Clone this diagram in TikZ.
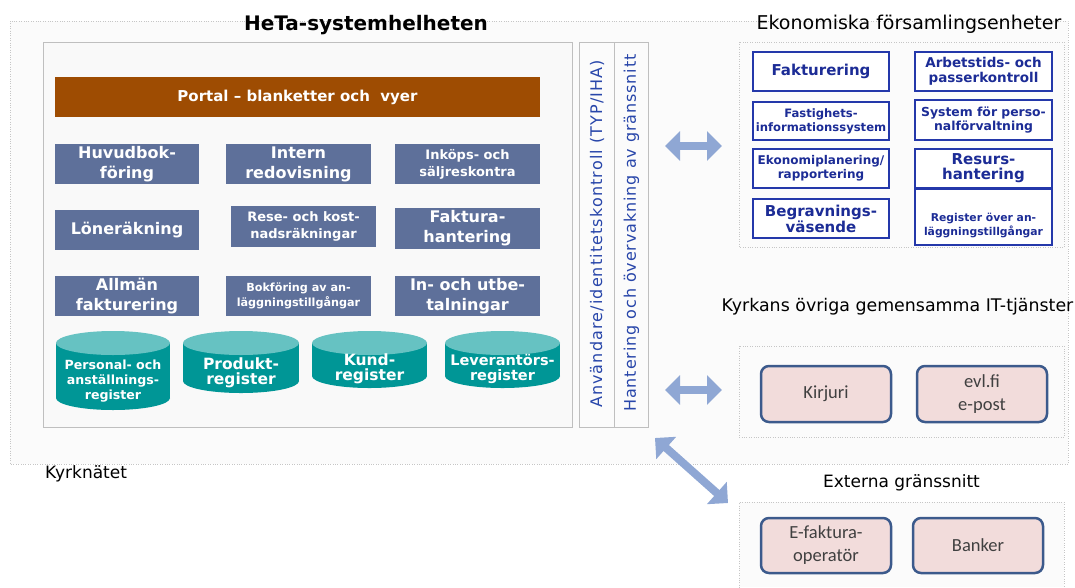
\documentclass[tikz,border=0pt]{standalone}
\usepackage{fontspec}
\setmainfont{DejaVu Sans}
\newfontfamily\carl{Carlito}
\newfontfamily\spaced[LetterSpace=7]{DejaVu Sans}
\newfontfamily\spacedb[LetterSpace=5.5]{DejaVu Sans}
\usetikzlibrary{arrows.meta}
\definecolor{portal}{RGB}{158,76,2}
\definecolor{bbox}{RGB}{94,112,154}
\definecolor{tealA}{RGB}{0,150,150}
\definecolor{tealB}{RGB}{102,194,194}
\definecolor{ekob}{RGB}{36,56,170}
\definecolor{ekot}{RGB}{28,44,150}
\definecolor{vtxt}{RGB}{40,70,170}
\definecolor{arr}{RGB}{143,167,212}
\definecolor{pinkf}{RGB}{242,220,219}
\definecolor{pinkb}{RGB}{60,90,140}
\newcommand{\fs}[2]{\fontsize{#1}{#2}\selectfont}
\tikzset{
  area/.style={draw=gray!45, dotted, fill=gray!3},
  heta/.style={draw=gray!50, fill=gray!5},
  vbar/.style={draw=gray!50, fill=gray!3},
  bluebox/.style={fill=bbox, text=white, align=center, inner sep=0pt, minimum height=40pt},
  ekobox/.style={draw=ekob, line width=1.5pt, fill=white, text=ekot, align=center, inner sep=0pt},
  pinkbox/.style={draw=pinkb, line width=2.5pt, fill=pinkf, rounded corners=8pt, text=black!75, align=center, inner sep=0pt, minimum width=130pt, minimum height=56pt, font=\carl\fs{18.5}{23}},
  title/.style={inner sep=0pt},
  dbl/.style={arr, line width=8pt, {Triangle[width=29pt,length=15pt]}-{Triangle[width=29pt,length=15pt]}},
  cyltext/.style={text=white, align=center, inner sep=0pt}
}
\begin{document}
\begin{tikzpicture}[x=1pt,y=-1pt]
\useasboundingbox (0,0) rectangle (1075,587);
% outer network area
\path[area] (10,21) rectangle (1068,464);
\node[inner sep=0pt, anchor=west, font=\fs{17}{18}] (kyrk) at (45,474) {Kyrknätet};
% HeTa
\path[heta] (43,42) rectangle (572,427);
\node[inner sep=0pt, font=\bfseries\fs{20}{24}] (hetatitle) at (366,25) {HeTa-systemhelheten};
\node[fill=portal, text=white, inner sep=0pt, minimum width=485pt, minimum height=40pt, font=\bfseries\fs{15}{16}] (portal) at (297.5,97) {Portal -- blanketter och\ \ vyer};
% row 1
\node[bluebox, minimum width=144pt, font=\bfseries\fs{16}{21}] (huvud) at (127,164) {Huvudbok-\\[-1pt]föring};
\node[bluebox, minimum width=145pt, font=\bfseries\fs{16}{21}] (intern) at (298.5,164) {Intern\\[-1pt]redovisning};
\node[bluebox, minimum width=145pt, font=\bfseries\fs{13}{17}] (inkop) at (467.5,164) {Inköps- och\\säljreskontra};
% row 2
\node[bluebox, minimum width=144pt, font=\bfseries\fs{16}{21}] (lone) at (127,230) {Löneräkning};
\node[bluebox, minimum width=145pt, minimum height=41pt, font=\bfseries\fs{13}{17}] (rese) at (303.5,226.5) {Rese- och kost-\\nadsräkningar};
\node[bluebox, minimum width=145pt, minimum height=41pt, font=\bfseries\fs{16}{21}] (fakt) at (467.5,228.5) {Faktura-\\[-1pt]hantering};
% row 3
\node[bluebox, minimum width=144pt, font=\bfseries\fs{16}{21}] (allman) at (127,296) {Allmän\\[-1pt]fakturering};
\node[bluebox, minimum width=145pt, font=\bfseries\fs{11.2}{15}] (bokf) at (298.5,296) {Bokföring av an-\\läggningstillgångar};
\node[bluebox, minimum width=145pt, font=\bfseries\fs{16}{21}] (inut) at (467.5,296) {In- och utbe-\\[-1pt]talningar};
% cylinders
\foreach \xa/\xb/\yb in {56/170/410, 183/299/393, 312/427/388, 445/560/388}{
  \pgfmathsetmacro{\cx}{(\xa+\xb)/2}
  \pgfmathsetmacro{\rx}{(\xb-\xa)/2}
  \fill[tealA] (\cx,\yb-12) ellipse [x radius=\rx pt, y radius=12pt];
  \fill[tealA] (\xa,343) rectangle (\xb,\yb-12);
  \fill[tealB] (\cx,343) ellipse [x radius=\rx pt, y radius=12pt];
}
\node[cyltext, font=\bfseries\fs{12.6}{15}] (pers) at (113,381) {Personal- och\\anställnings-\\register};
\node[cyltext, font=\bfseries\fs{15.5}{15}] (prod) at (241,373) {Produkt-\\register};
\node[cyltext, font=\bfseries\fs{15.5}{15}] (kund) at (369.5,369) {Kund-\\register};
\node[cyltext, font=\bfseries\fs{14.5}{15}] (lev) at (502.5,369) {Leverantörs-\\register};
% vertical bars
\path[vbar] (579,42) rectangle (614,427);
\path[vbar] (614,42) rectangle (648,427);
\node[rotate=90, inner sep=0pt, text=vtxt, font=\spaced\fs{16}{16}] (anv) at (597,234) {Användare/identitetskontroll (TYP/IHA)};
\node[rotate=90, inner sep=0pt, text=vtxt, font=\spacedb\fs{16}{16}] (hant) at (631.5,233) {Hantering och övervakning av gränssnitt};
% Ekonomiska
\node[title, font=\fs{19}{20}] (ekotitle) at (909,24) {Ekonomiska församlingsenheter};
\path[area] (739,42) rectangle (1064,247);
\node[ekobox, minimum width=136pt, minimum height=39pt, font=\bfseries\fs{15}{16}] (e1) at (821,71.5) {Fakturering};
\node[ekobox, minimum width=136pt, minimum height=38pt, font=\bfseries\fs{11.6}{14}] (e2) at (821,121) {Fastighets-\\informationssystem};
\node[ekobox, minimum width=136pt, minimum height=39pt, font=\bfseries\fs{12}{14}] (e3) at (821,168.5) {Ekonomiplanering/\\rapportering};
\node[ekobox, minimum width=136pt, minimum height=39pt, font=\bfseries\fs{15}{14}] (e4) at (821,218.5) {Begravnings-\\väsende};
\node[ekobox, minimum width=137pt, minimum height=39pt, font=\bfseries\fs{13.5}{15}] (e5) at (983.5,71.5) {Arbetstids- och\\passerkontroll};
\node[ekobox, minimum width=137pt, minimum height=40pt, font=\bfseries\fs{12.4}{14}] (e6) at (983.5,120) {System för perso-\\nalförvaltning};
\node[ekobox, minimum width=137pt, minimum height=39pt, font=\bfseries\fs{15}{15}] (e7) at (983.5,168.5) {Resurs-\\hantering};
\draw[ekob, line width=1.5pt, fill=white] (915,189) rectangle (1052,245);
\node[inner sep=0pt, text=ekot, align=center, font=\bfseries\fs{10.8}{14}] (e8) at (983.5,225) {Register över an-\\läggningstillgångar};
% Kyrkans
\node[title, font=\fs{17.4}{18}] (kyrktitle) at (897.5,307) {Kyrkans övriga gemensamma IT-tjänster};
\path[area] (739,346) rectangle (1064,437);
\node[pinkbox] (kirjuri) at (826,394) {Kirjuri};
\node[pinkbox] (evl) at (982,394) {evl.fi\\e-post};
% Externa
\node[title, font=\fs{17}{18}] (exttitle) at (901.5,483) {Externa gränssnitt};
\fill[gray!3] (739,502) rectangle (1064,587);
\draw[gray!45, dotted] (739,590) -- (739,502) -- (1064,502) -- (1064,590);
\node[pinkbox, minimum height=55pt] (efakt) at (826,545.5) {E-faktura-\\operatör};
\node[pinkbox, minimum height=55pt] (banker) at (978,545.5) {Banker};
% arrows
\coordinate (a1l) at (665,146); \coordinate (a1r) at (722,146);
\coordinate (a2l) at (665,390); \coordinate (a2r) at (722,390);
\coordinate (a3l) at (655,438); \coordinate (a3r) at (728,503);
\draw[dbl] (a1l) -- (a1r);
\draw[dbl] (a2l) -- (a2r);
\draw[dbl] (a3l) -- (a3r);
\end{tikzpicture}
\end{document}
